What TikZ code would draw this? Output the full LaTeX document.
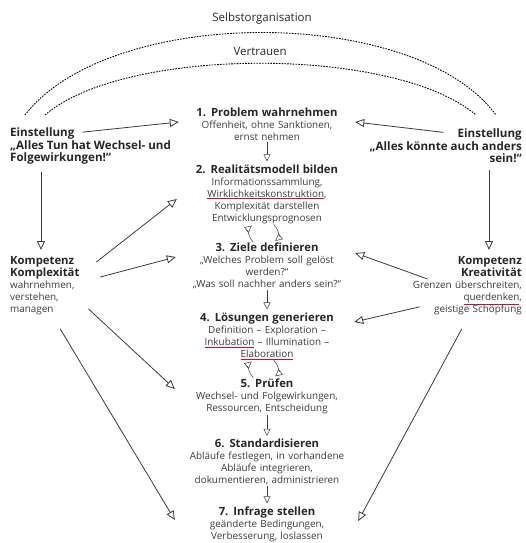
\documentclass[tikz,border=0pt]{standalone}
\usepackage{fontspec}
\setmainfont{Open Sans}
\usetikzlibrary{arrows.meta,positioning}
\definecolor{InkGray}{HTML}{262626}
\definecolor{BodyGray}{HTML}{3C3C3C}
\definecolor{LineGray}{HTML}{3A3A3A}
\definecolor{SpellRed}{HTML}{C8102E}
% red spell-check underline, text stays dark
\newcommand\spellmark[1]{\textcolor{SpellRed}{\underline{\textcolor{BodyGray}{#1}}}}
% bold step title
\newcommand\ttl[1]{{\fontsize{11.3}{12}\selectfont\bfseries\color{InkGray}#1}}
\tikzset{
  % step in the middle column
  stp/.style={
    text width=176pt, align=center, inner sep=0pt,
    text=BodyGray, font=\fontsize{9.9}{12}\selectfont
  },
  % attitude heading, bold
  att/.style={
    inner sep=0pt, text=InkGray, align=#1,
    font=\fontsize{11.6}{12}\selectfont\bfseries
  },
  % competence block at the sides
  cmp/.style={
    inner sep=0pt, text=BodyGray,
    font=\fontsize{9.9}{12}\selectfont
  },
  % big open arrow
  arr/.style={
    -{Triangle[open,length=9pt,width=8pt]},
    line width=0.8pt, color=LineGray
  },
  % small arrow between steps
  flw/.style={
    -{Triangle[open,length=7pt,width=7pt]},
    line width=0.5pt, color=LineGray, shorten >=3pt, shorten <=1pt
  },
  % dashed bow on top
  bow/.style={dash pattern=on 1.6pt off 1.2pt, line width=0.9pt},
  % bow label
  bowlbl/.style={font=\fontsize{11.5}{12}\selectfont, text=InkGray, inner sep=0pt}
}

\begin{document}
\begin{tikzpicture}[x=1pt,y=-1pt]
  \useasboundingbox (0,0) rectangle (526,543);

  % Dashed bows
  \coordinate (oL) at (25,115);
  \coordinate (oR) at (496,115);
  \coordinate (iL) at (45,115);
  \coordinate (iR) at (476,115);
  \draw[bow] (oL) .. controls (110,5) and (415,5) .. (oR)
    node[bowlbl, midway, above=8pt] (selbst) {Selbstorganisation};
  \draw[bow] (iL) .. controls (125,46) and (395,46) .. (iR)
    node[bowlbl, midway, above=7pt] (vertr) {Vertrauen};

  % Steps in the middle
  \node[stp] (s1) at (267,124) {\ttl{1. Problem wahrnehmen}\\Offenheit, ohne Sanktionen,\\ernst nehmen};
  \node[stp] (s2) at (267,194) {\ttl{2. Realitätsmodell bilden}\\Informationssammlung,\\\spellmark{Wirklichkeitskonstruktion},\\Komplexität darstellen\\Entwicklungsprognosen};
  \node[stp] (s3) at (267,266) {\ttl{3. Ziele definieren}\\„Welches Problem soll gelöst\\werden?“\\„Was soll nachher anders sein?“};
  \node[stp] (s4) at (267,336) {\ttl{4. Lösungen generieren}\\Definition – Exploration –\\\spellmark{Inkubation} – Illumination –\\\spellmark{Elaboration}};
  \node[stp] (s5) at (267,396) {\ttl{5. Prüfen}\\Wechsel- und Folgewirkungen,\\Ressourcen, Entscheidung};
  \node[stp] (s6) at (267,462) {\ttl{6. Standardisieren}\\Abläufe festlegen, in vorhandene\\Abläufe integrieren,\\dokumentieren, administrieren};
  \node[stp] (s7) at (267,524) {\ttl{7. Infrage stellen}\\geänderte Bedingungen,\\Verbesserung, loslassen};

  \draw[flw] (s1) -- (s2);
  \draw[flw] ([xshift=-13pt]s3.north) to[bend left=50] ([xshift=-13pt]s2.south);
  \draw[flw] ([xshift=6pt]s2.south) to[bend left=50] ([xshift=6pt]s3.north);
  \draw[flw] (s3) -- (s4);
  \draw[flw] ([xshift=-13pt]s5.north) to[bend left=50] ([xshift=-13pt]s4.south);
  \draw[flw] ([xshift=6pt]s4.south) to[bend left=50] ([xshift=6pt]s5.north);
  \draw[flw] (s5) -- (s6);
  \draw[flw] (s6) -- (s7);

  % Attitudes
  \node[att=left, anchor=west] (einL) at (10,133) {Einstellung};
  \node[att=left, anchor=north west] (einLq) at ([yshift=-1pt]einL.south west) {„Alles Tun hat Wechsel- und\\Folgewirkungen!“};
  \node[att=right, anchor=east] (einR) at (522,134) {Einstellung};
  \node[att=right, anchor=north east] (einRq) at ([yshift=-1pt]einR.south east) {„Alles könnte auch anders\\sein!“};

  \draw[arr, shorten <=8pt] (einL.east) -- ([yshift=2pt]s1.west);
  \draw[arr, shorten <=14pt] (einR.west) -- ([yshift=2pt]s1.east);

  % Competences
  \node[cmp, text width=80pt, align=left, anchor=north west] (komp) at (10,256)
    {\ttl{Kompetenz\\Komplexität}\\wahrnehmen,\\verstehen,\\managen};
  \node[cmp, text width=120pt, align=right, anchor=north east] (krea) at (522,256)
    {\ttl{Kompetenz\\Kreativität}\\Grenzen überschreiten,\\\spellmark{querdenken},\\geistige Schöpfung};

  \draw[arr] ([xshift=31pt,yshift=-8pt]einLq.south west) -- ([xshift=31pt,yshift=6pt]komp.north west);
  \draw[arr] ([xshift=-33pt,yshift=-8pt]einRq.south east) -- ([xshift=-33pt,yshift=6pt]krea.north east);

  \draw[arr] ([xshift=6pt,yshift=-6pt]komp.north east) -- ([xshift=-2pt,yshift=-5pt]s2.west);
  \draw[arr] ([xshift=10pt,yshift=-21pt]komp.north east) -- ([xshift=-3pt,yshift=9pt]s3.west);
  \draw[arr] ([xshift=-2pt,yshift=6pt]komp.south east) -- ([xshift=-4pt,yshift=7pt]s5.west);
  \draw[arr] ([xshift=10pt,yshift=-14pt]komp.south) -- ([xshift=-4pt,yshift=4pt]s7.west);

  \draw[arr] ([xshift=26pt,yshift=-23pt]krea.north west) -- ([xshift=0pt,yshift=13pt]s3.east);
  \draw[arr] ([xshift=18pt,yshift=8pt]krea.south west) -- ([xshift=-1pt,yshift=14pt]s4.east);
  \draw[arr] ([yshift=-14pt]krea.south) -- ([xshift=3pt,yshift=3pt]s7.east);

\end{tikzpicture}
\end{document}
